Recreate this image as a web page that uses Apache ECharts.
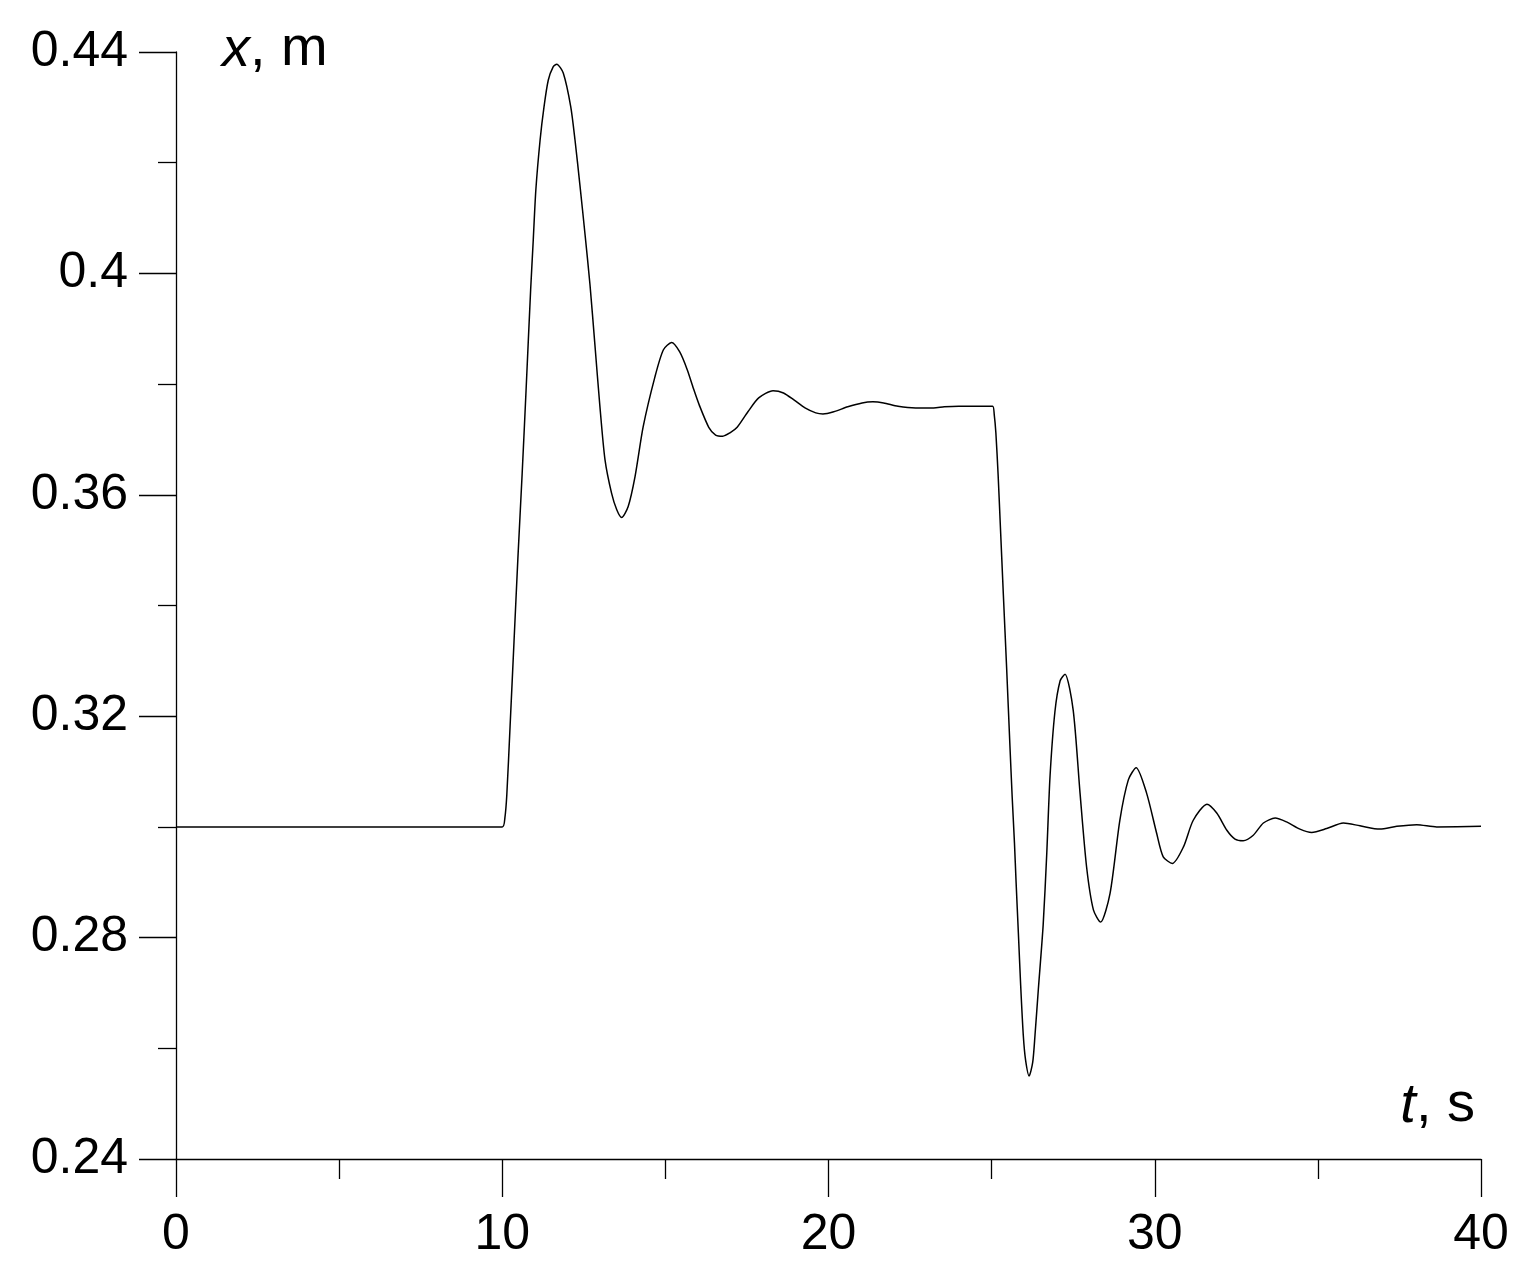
<!DOCTYPE html>
<html>
<head>
<meta charset="utf-8">
<title>x(t)</title>
<script src="https://cdn.jsdelivr.net/npm/echarts@6/dist/echarts.min.js"></script>
<style>
  html, body { margin: 0; padding: 0; background: #fff; }
  #chart { width: 1537px; height: 1283px; }
</style>
</head>
<body>
<div id="chart"></div>
<script>
// time, s
var times = [
  0, 10.0,
  10.08, 10.14, 10.24, 10.36, 10.48, 10.61, 10.73, 10.87, 10.95, 11.03,
  11.16, 11.28, 11.41, 11.56, 11.67, 11.87, 12.10, 12.23, 12.38, 12.54,
  12.69, 12.84, 12.99, 13.15, 13.35, 13.51, 13.66, 13.86, 14.07, 14.32,
  14.68, 14.94, 15.19, 15.44, 15.67, 15.86, 16.04, 16.33, 16.54, 16.76,
  16.98, 17.20, 17.53, 17.86, 18.30, 18.62, 18.95, 19.28, 19.61, 19.83,
  20.16, 20.59, 21.03, 21.36, 21.69, 22.13, 22.67, 23.22, 23.55, 23.99,
  24.64, 25.03, 25.08, 25.13, 25.20, 25.26, 25.36, 25.46, 25.56, 25.63,
  25.70, 25.75, 25.82, 25.89, 25.97, 26.04, 26.15, 26.26, 26.33, 26.43,
  26.58, 26.69, 26.79, 26.94, 27.10, 27.25, 27.50, 27.71, 27.91, 28.12,
  28.34, 28.63, 28.93, 29.19, 29.43, 29.75, 30.06, 30.26, 30.54, 30.88,
  31.18, 31.60, 31.90, 32.21, 32.46, 32.71, 33.02, 33.33, 33.69, 34.04,
  34.45, 34.81, 35.27, 35.78, 36.29, 36.90, 37.42, 38.03, 38.64, 40.0
];
// displacement x, m
var positions = [
  0.3000, 0.3000,
  0.3016, 0.3058, 0.3182, 0.3334, 0.3486, 0.3638, 0.3789, 0.3970, 0.4060, 0.4151,
  0.4241, 0.4301, 0.4349, 0.4373, 0.4378, 0.4362, 0.4301, 0.4241, 0.4160, 0.4069,
  0.3979, 0.3871, 0.3762, 0.3663, 0.3603, 0.3573, 0.3559, 0.3579, 0.3633, 0.3723,
  0.3813, 0.3862, 0.3875, 0.3858, 0.3826, 0.3792, 0.3762, 0.3722, 0.3708, 0.3706,
  0.3712, 0.3722, 0.3750, 0.3775, 0.3788, 0.3784, 0.3771, 0.3757, 0.3748, 0.3746,
  0.3750, 0.3759, 0.3766, 0.3768, 0.3766, 0.3760, 0.3757, 0.3757, 0.3759, 0.3760,
  0.3760, 0.3760, 0.3745, 0.3712, 0.3635, 0.3554, 0.3419, 0.3287, 0.3148, 0.3054,
  0.2971, 0.2900, 0.2808, 0.2714, 0.2624, 0.2579, 0.2550, 0.2575, 0.2624, 0.2705,
  0.2823, 0.2952, 0.3091, 0.3208, 0.3264, 0.3276, 0.3211, 0.3061, 0.2928, 0.2850,
  0.2828, 0.2880, 0.3012, 0.3085, 0.3107, 0.3061, 0.2988, 0.2946, 0.2934, 0.2964,
  0.3012, 0.3041, 0.3025, 0.2994, 0.2978, 0.2975, 0.2985, 0.3007, 0.3016, 0.3009,
  0.2996, 0.2990, 0.2997, 0.3007, 0.3002, 0.2996, 0.3001, 0.3004, 0.3000, 0.3001
];

var xTicks = { min: 0, max: 40, interval: 10 };
var yTicks = { min: 0.24, max: 0.44, interval: 0.04 };

var chart = echarts.init(document.getElementById("chart"));
var font = "'Liberation Sans', Arial, sans-serif";
var seriesData = times.map(function (t, i) { return [t, positions[i]]; });

var option = {
  backgroundColor: "#fff",
  animation: false,
  grid: {
    left: 176,
    right: 56,
    top: 52,
    bottom: 124,
    containLabel: false,
    outerBoundsMode: "none"
  },
  xAxis: {
    type: "value",
    min: xTicks.min,
    max: xTicks.max,
    interval: xTicks.interval,
    axisLine: { show: true, onZero: false, lineStyle: { color: "#000", width: 1.3 } },
    axisTick: { show: true, inside: false, length: 38, lineStyle: { color: "#000", width: 1.3 } },
    minorTick: { show: true, splitNumber: 2, length: 20, lineStyle: { color: "#000", width: 1.3 } },
    splitLine: { show: false },
    axisLabel: { color: "#000", fontSize: 50, fontFamily: font, margin: 51 }
  },
  yAxis: {
    type: "value",
    min: yTicks.min,
    max: yTicks.max,
    interval: yTicks.interval,
    axisLine: { show: true, onZero: false, lineStyle: { color: "#000", width: 1.3 } },
    axisTick: { show: true, inside: false, length: 37, lineStyle: { color: "#000", width: 1.3 } },
    minorTick: { show: true, splitNumber: 2, length: 18, lineStyle: { color: "#000", width: 1.3 } },
    splitLine: { show: false },
    axisLabel: {
      color: "#000", fontSize: 50, fontFamily: font, margin: 48,
      formatter: function (v) { return String(Math.round(v * 100) / 100); }
    }
  },
  graphic: [
    {
      type: "text",
      left: 222,
      top: 22,
      style: {
        text: "{i|x}, m",
        fill: "#000",
        font: "56px " + font,
        rich: { i: { fontStyle: "italic", fontSize: 56, fontFamily: font, fill: "#000" } }
      }
    },
    {
      type: "text",
      right: 62,
      top: 1078,
      style: {
        text: "{i|t}, s",
        fill: "#000",
        font: "56px " + font,
        rich: { i: { fontStyle: "italic", fontSize: 56, fontFamily: font, fill: "#000" } }
      }
    }
  ],
  series: [
    {
      type: "line",
      data: seriesData,
      showSymbol: false,
      smooth: 0.25,
      lineStyle: { color: "#000", width: 1.5 }
    }
  ]
};
chart.setOption(option);
</script>
</body>
</html>
